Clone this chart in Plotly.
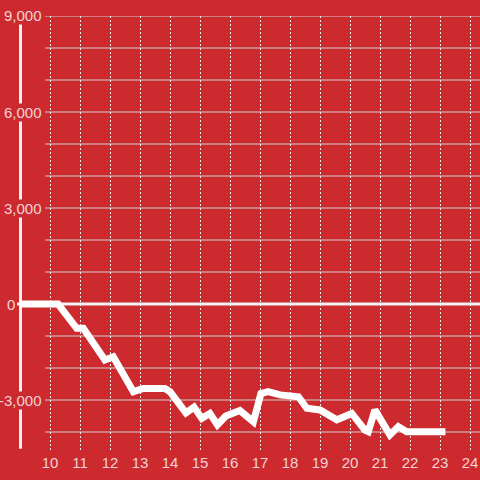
import plotly.graph_objects as go

# ---- data ----
hours = [9.0, 10.27, 10.89, 11.11, 11.83, 12.11, 12.78, 13.11, 13.83, 14.0, 14.53,
         14.8, 15.06, 15.33, 15.58, 15.86, 16.33, 16.78, 17.03, 17.27, 17.67, 18.28,
         18.56, 19.0, 19.56, 20.06, 20.5, 20.61, 20.83, 21.33, 21.61, 21.89, 23.18]
values = [0, 0, -760, -760, -1750, -1650, -2740, -2640, -2640, -2740, -3400,
          -3220, -3570, -3420, -3780, -3500, -3330, -3680, -2800, -2740, -2840, -2900,
          -3260, -3310, -3620, -3420, -3940, -3990, -3310, -4090, -3830, -3990, -3990]
x_ticks = list(range(10, 25))
y_label_vals = [9000, 6000, 3000, 0, -3000]
y_label_text = ["9,000", "6,000", "3,000", "0", "-3,000"]
y_grid_vals = [9000, 8000, 7000, 6000, 5000, 4000, 3000, 2000, 1000,
               -1000, -2000, -3000, -4000]

BG = "#cc2a2f"
TXT = "#f3d3d4"
FONT = "Liberation Sans, Arial, sans-serif"

W, H = 480, 480
px = lambda v: v / W  # paper x from pixel
Y_MIN, Y_MAX = -4625, 9000

fig = go.Figure()
fig.add_trace(go.Scatter(
    x=hours, y=values, mode="lines",
    line=dict(color="white", width=7),
    hoverinfo="skip", cliponaxis=False,
))

shapes = []
for v in y_grid_vals:
    shapes.append(dict(type="line", xref="paper", yref="y", x0=px(45), x1=1, y0=v, y1=v,
                       line=dict(color="#d0d0d0", width=1), layer="below"))
# zero line
shapes.append(dict(type="line", xref="paper", yref="y", x0=px(17), x1=1, y0=0, y1=0,
                   line=dict(color="#f2f2f2", width=3), layer="below"))
# y axis line
shapes.append(dict(type="line", xref="paper", yref="y", x0=px(20.5), x1=px(20.5),
                   y0=Y_MIN + 100, y1=Y_MAX, line=dict(color="#f2f2f2", width=3), layer="below"))

annotations = []
for v, t in zip(y_label_vals, y_label_text):
    right = 16 if v == 0 else 43
    annotations.append(dict(x=px(right), xref="paper", y=v, yref="y", text=t,
                            showarrow=False, xanchor="right", yanchor="middle",
                            bgcolor=BG, borderpad=0,
                            font=dict(family=FONT, size=15, color=TXT)))

fig.update_layout(
    width=W, height=H,
    margin=dict(l=0, r=0, t=0, b=0),
    paper_bgcolor=BG, plot_bgcolor=BG,
    showlegend=False,
    shapes=shapes, annotations=annotations,
    xaxis=dict(domain=[px(20), 1], range=[9, 9 + 460 / 30],
               tickvals=x_ticks, ticktext=[str(t) for t in x_ticks],
               showgrid=True, gridcolor="#eeeeee", griddash="2px,2px", gridwidth=1,
               zeroline=False, showline=False, ticks="",
               tickfont=dict(family=FONT, size=15, color=TXT)),
    yaxis=dict(domain=[28 / H, 464 / H], range=[Y_MIN, Y_MAX],
               showgrid=False, zeroline=False, showline=False,
               showticklabels=False, ticks=""),
)

fig.write_html("out.html", config={"displayModeBar": False},
               post_script="document.body.style.margin='0';")
